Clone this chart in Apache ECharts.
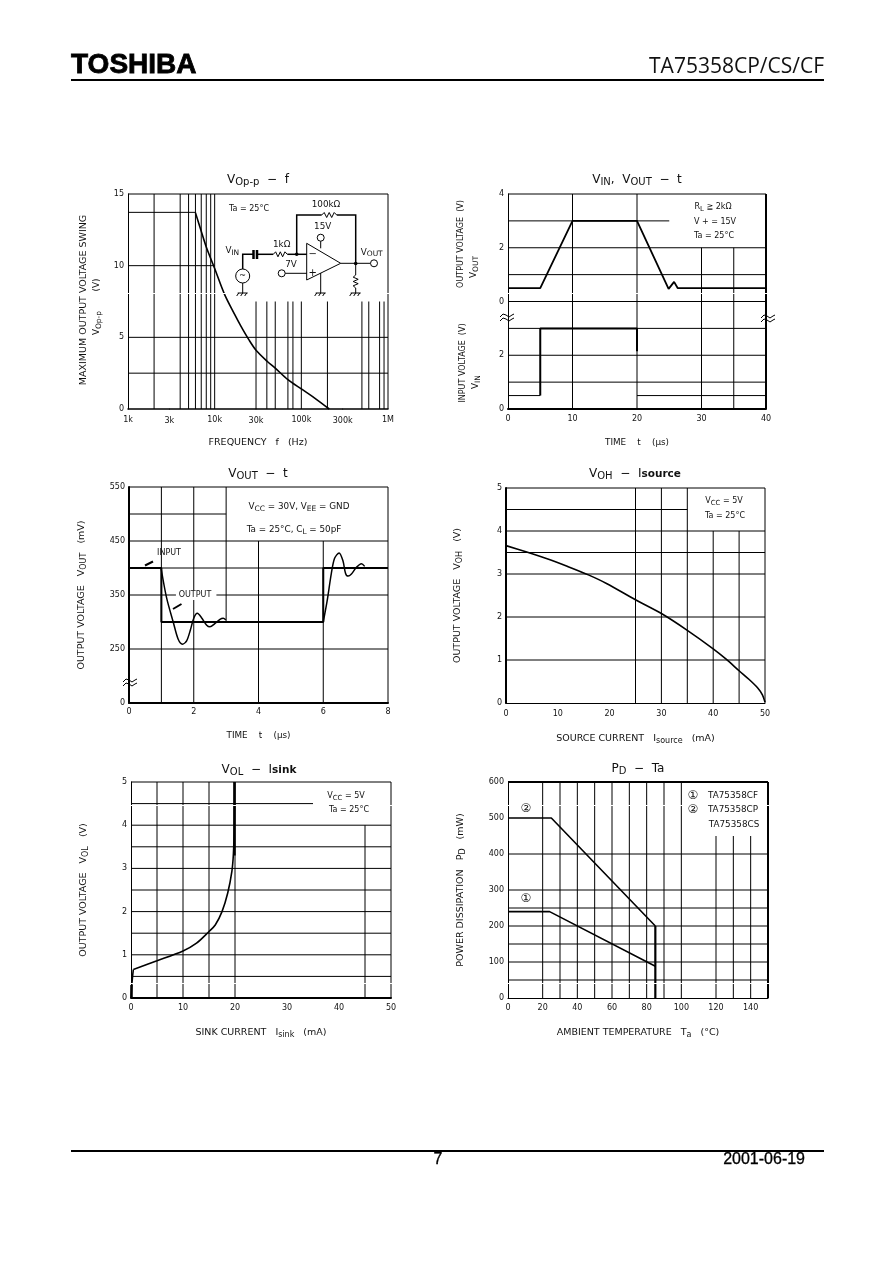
<!DOCTYPE html>
<html><head><meta charset="utf-8">
<style>html,body{margin:0;padding:0;background:#fff}#c{width:892px;height:1263px}</style>
<script src="https://cdn.jsdelivr.net/npm/echarts@6/dist/echarts.min.js"></script>
</head><body><div id="c"></div>
<script>
// ---------- data: chart 1, VOp-p vs f
const freqExtraTicks = [3000, 30000, 300000];
const freqFlat = [[1000,13.72],[6000,13.72]];
const freqCurve = [[6000,13.7],[7000,12.4],[8000,11.3],[10000,9.8],[13000,8.0],[17000,6.6],[20000,5.8],[25000,4.8],[30000,4.1],[40000,3.35],[50000,2.85],[70000,2.05],[100000,1.4],[140000,0.8],[210000,0]];
const freqFullV = [2000,4000,5000,6000,7000,8000,9000,10000];
const freqLowV = [30000,40000,50000,70000,80000,100000,200000,500000,600000,800000,900000];
const freqH = [[1000,1e6,5],[1000,1e6,2.5],[1000,10000,10]];
// ---------- data: chart 2, VIN/VOUT vs t  (lower trace sits on the axis below the break)
const stepOut = [[0,0.5],[5,0.5],[10,3],[20,3],[24.9,0.47],[25.75,0.73],[26.3,0.5],[40,0.5]];
const stepInHigh = [[5,-3.5],[5,-1],[20,-1],[20,-1.85]];
const stepInLow = [[0,5,-3.5],[20,40,-3.5]];
const stepH = [[0,25,3],[0,40,2],[0,40,1],[0,40,0],[0,40,-1],[0,40,-2],[0,40,-3]];
const stepV = [[10,-4,4],[20,-4,4],[30,-4,2],[35,-4,2]];
const stepYLabels = {'4':'4','2':'2','0':'0','-2':'2','-4':'0'};
// ---------- data: chart 3, VOUT vs t
const pulseInput = [[0,400],[1,400],[1,300],[6,300],[6,400],[8,400]];
const pulseOutA = [[0.99,400],[1.16,345],[1.37,299],[1.52,268],[1.65,259],[1.78,265],[1.9,286],[2.0,307],[2.11,316],[2.24,308],[2.4,294],[2.5,291],[2.65,297],[2.81,305],[2.91,307],[2.99,304]];
const pulseOutB = [[6.0,300],[6.12,339],[6.25,390],[6.35,418],[6.49,428],[6.61,413],[6.69,390],[6.77,385],[6.87,389],[7.02,401],[7.18,408],[7.28,403]];
const pulseH = [[1,6,400],[0,1.45,350],[2.7,8,350],[0,3,500],[0,8,450],[0,8,250]];
const pulseV = [[1,150,550],[2,150,550],[3,300,550],[4,150,450],[6,150,450]];
const pulseYLabels = {'550':'550','450':'450','350':'350','250':'250','150':'0'};
// ---------- data: chart 4, VOH vs Isource
const sourceCurve = [[0,3.66],[4,3.51],[8.5,3.33],[11.8,3.18],[15.9,2.98],[19.4,2.78],[25,2.40],[30,2.08],[35,1.69],[40,1.26],[42.5,1.02],[45,0.75],[47,0.54],[48.6,0.35],[49.5,0.19],[50,0.02]];
const sourceH = [[0,35,4.5],[0,50,4],[0,50,3.5],[0,50,3],[0,50,2],[0,50,1]];
const sourceV = [[25,0,5],[30,0,5],[35,0,5],[40,0,4],[45,0,4]];
// ---------- data: chart 5, VOL vs Isink
const sinkStart = [[0,0],[0.15,0.3],[0.3,0.5],[0.45,0.66]];
const sinkCurve = [[0.45,0.66],[5,0.86],[10,1.09],[12.6,1.27],[15,1.54],[16.2,1.69],[17.5,2.0],[18.6,2.43],[19.4,2.93],[19.7,3.35],[19.85,3.97],[19.9,5]];
const sinkThick = [[19.9,3.3],[19.9,5]];
const sinkFoot = [[0.1,0],[0.1,0.3]];
const sinkH = [[0,35,4.5],[0,50,4],[0,50,3.5],[0,50,3],[0,50,2.5],[0,50,2],[0,50,1.5],[0,50,1],[0,50,0.5]];
const sinkV = [[5,0,5],[10,0,5],[15,0,5],[20,0,5],[45,0,4]];
// ---------- data: chart 6, PD vs Ta
const powerCurve2 = [[0,500],[25,500],[85,200]];
const powerCurve1 = [[0,240],[24,240],[85,88]];
const powerDrop = [[85,200],[85,0]];
const powerH = [[0,150,400],[0,150,300],[0,150,250],[0,150,200],[0,150,150],[0,150,100],[0,150,50]];
const powerV = [[20,0,600],[30,0,600],[40,0,600],[50,0,600],[60,0,600],[70,0,600],[80,0,600],[90,0,600],[100,0,600],[120,0,450],[130,0,450],[140,0,450]];

// ---------- text
const FF = '"DejaVu Sans"';
const FS = 8;
const TXT = '#111';
const richBase = {
  n:{fontFamily:FF,fontSize:FS,color:TXT},
  s:{fontFamily:FF,fontSize:7,color:TXT,padding:[4,0,0,0]},
  m:{fontFamily:FF,fontSize:8.8,color:TXT},
  ms:{fontFamily:FF,fontSize:7.5,color:TXT,padding:[4,0,0,0]},
  a:{fontFamily:FF,fontSize:9.5,color:TXT},
  as:{fontFamily:FF,fontSize:8,color:TXT,padding:[4,0,0,0]},
  tn:{fontFamily:FF,fontSize:12,color:TXT},
  ts:{fontFamily:FF,fontSize:10,color:TXT,padding:[4,0,0,0]},
  tb:{fontFamily:FF,fontSize:10.5,color:TXT,fontWeight:'bold'}
};
const titles = [
  {x:258,y:182,t:'{tn|V}{ts|Op-p}{tn|  −  f}'},
  {x:637,y:182,t:'{tn|V}{ts|IN}{tn|,  V}{ts|OUT}{tn|  −  t}'},
  {x:258,y:476,t:'{tn|V}{ts|OUT}{tn|  −  t}'},
  {x:635,y:476,t:'{tn|V}{ts|OH}{tn|  −  I}{tb|source}'},
  {x:259,y:772,t:'{tn|V}{ts|OL}{tn|  −  I}{tb|sink}'},
  {x:638,y:771,t:'{tn|P}{ts|D}{tn|  −  Ta}'}
];

const grids = [
  {left:128,top:194,width:260,height:215},
  {left:508,top:194,width:258,height:215},
  {left:129,top:487,width:259,height:216},
  {left:506,top:488,width:259,height:215},
  {left:131,top:782,width:260,height:216},
  {left:508,top:782,width:260,height:216}
];

function axisBase(w, label){
  return {show:true, axisTick:{show:false}, splitLine:{show:false}, minorTick:{show:false}, minorSplitLine:{show:false},
    axisLine:{show:true,onZero:false,lineStyle:{color:'#000',width:w}},
    axisLabel:Object.assign({fontFamily:FF,fontSize:FS,color:TXT,margin:6,hideOverlap:false,showMinLabel:true,showMaxLabel:true},label||{}),
    nameLocation:'middle', nameTextStyle:{fontFamily:FF,fontSize:FS,color:TXT,rich:richBase}};
}
const xAxes = [
  Object.assign(axisBase(1.5,{margin:7,formatter:v=>v>=1e6?'1M':(v/1000)+'k'}),{gridIndex:0,type:'log',logBase:10,min:1000,max:1e6,name:'{a|FREQUENCY   f   (Hz)}',nameGap:29}),
  Object.assign(axisBase(2),{gridIndex:1,type:'value',min:0,max:40,interval:10,name:'{m|TIME    t    (μs)}',nameGap:29}),
  Object.assign(axisBase(2,{margin:5}),{gridIndex:2,type:'value',min:0,max:8,interval:2,name:'{m|TIME    t    (μs)}',nameGap:28}),
  Object.assign(axisBase(1,{margin:7}),{gridIndex:3,type:'value',min:0,max:50,interval:10,name:'{a|SOURCE CURRENT   I}{as|source}{a|   (mA)}',nameGap:30}),
  Object.assign(axisBase(2),{gridIndex:4,type:'value',min:0,max:50,interval:10,name:'{a|SINK CURRENT   I}{as|sink}{a|   (mA)}',nameGap:29}),
  Object.assign(axisBase(1,{formatter:v=>v>140?'':String(v)}),{gridIndex:5,type:'value',min:0,max:150,interval:20,name:'{a|AMBIENT TEMPERATURE   T}{as|a}{a|   (°C)}',nameGap:29})
];
const yAxes = [
  Object.assign(axisBase(1,{margin:4}),{gridIndex:0,type:'value',min:0,max:15,interval:5}),
  Object.assign(axisBase(1,{margin:4,formatter:v=>stepYLabels[String(v)]}),{gridIndex:1,type:'value',min:-4,max:4,interval:2}),
  Object.assign(axisBase(2,{margin:4,formatter:v=>pulseYLabels[String(v)]||''}),{gridIndex:2,type:'value',min:150,max:550,interval:50,name:'{a|OUTPUT VOLTAGE   V}{as|OUT}{a|   (mV)}',nameGap:41}),
  Object.assign(axisBase(2,{margin:4}),{gridIndex:3,type:'value',min:0,max:5,interval:1,name:'{a|OUTPUT VOLTAGE   V}{as|OH}{a|   (V)}',nameGap:42}),
  Object.assign(axisBase(1,{margin:4}),{gridIndex:4,type:'value',min:0,max:5,interval:1,name:'{a|OUTPUT VOLTAGE   V}{as|OL}{a|   (V)}',nameGap:41}),
  Object.assign(axisBase(1,{margin:4}),{gridIndex:5,type:'value',min:0,max:600,interval:100,name:'{a|POWER DISSIPATION   P}{as|D}{a|   (mW)}',nameGap:41})
];

// ---------- series helpers
const GAP = ['-','-'];
function line(i,data,w,smooth){
  return {type:'line',xAxisIndex:i,yAxisIndex:i,data,symbol:'none',silent:true,clip:false,animation:false,
    smooth:smooth?0.3:false,connectNulls:false,lineStyle:{color:'#000',width:w}};
}
function segs(hs,vs){
  const out=[];
  (hs||[]).forEach(h=>{out.push([h[0],h[2]],[h[1],h[2]],GAP)});
  (vs||[]).forEach(v=>{out.push([v[0],v[1]],[v[0],v[2]],GAP)});
  return out;
}
const frame = (x0,x1,y0,y1)=>({h:[[x0,x1,y1]],v:[[x1,y0,y1]]});
const fr = [frame(1000,1e6,0,15),frame(0,40,-4,4),frame(0,8,150,550),frame(0,50,0,5),frame(0,50,0,5),frame(0,150,0,600)];
const series = [
  line(0,segs(freqH.concat(fr[0].h),freqFullV.map(x=>[x,0,15]).concat(freqLowV.map(x=>[x,0,7.5])).concat(fr[0].v)),1),
  line(0,freqFlat,1),
  line(0,freqCurve,1.6,true),
  {type:'scatter',xAxisIndex:0,yAxisIndex:0,silent:true,animation:false,symbolSize:1,itemStyle:{color:'#000',opacity:1},
    data:freqExtraTicks.map(f=>[f,0]),
    label:{show:true,position:'bottom',distance:7,opacity:1,fontFamily:FF,fontSize:FS,color:TXT,formatter:p=>(p.value[0]/1000)+'k'}},

  line(1,segs(stepH.concat(fr[1].h),stepV),1),
  line(1,segs(null,fr[1].v),2),
  line(1,stepOut,1.8),
  line(1,stepInHigh,2),
  line(1,segs(stepInLow,null),1),

  line(2,segs(pulseH.concat(fr[2].h),pulseV.concat(fr[2].v)),1),
  line(2,pulseInput,2),
  line(2,pulseOutA,1.5,true),
  line(2,pulseOutB,1.5,true),

  line(3,segs(sourceH.concat(fr[3].h),sourceV.concat(fr[3].v)),1),
  line(3,sourceCurve,1.6,true),

  line(4,segs(sinkH.concat(fr[4].h),sinkV.concat(fr[4].v)),1),
  line(4,sinkStart,1.6),
  line(4,sinkCurve,1.6,true),
  line(4,sinkThick,2.5),
  line(4,sinkFoot,2.5),

  line(5,segs(powerH,powerV),1),
  line(5,segs(fr[5].h,fr[5].v),2),
  line(5,powerCurve2,1.6),
  line(5,powerCurve1,1.6),
  line(5,powerDrop,2.2)
];

// ---------- page furniture and annotations
const g = [];
const P = (points,w)=>g.push({type:'polyline',silent:true,z:10,shape:{points},style:{stroke:'#000',lineWidth:w||1,fill:null}});
const C = (cx,cy,r)=>g.push({type:'circle',silent:true,z:10,shape:{cx,cy,r},style:{stroke:'#000',lineWidth:1,fill:'#fff'}});
const D = (cx,cy)=>g.push({type:'circle',silent:true,z:10,shape:{cx,cy,r:1.8},style:{fill:'#000'}});
const T = (x,y,text,o)=>g.push(Object.assign({type:'text',silent:true,z:11,x,y},o&&o.rot?{rotation:o.rot}:{},
  {style:Object.assign({text,align:'center',verticalAlign:'middle',fontFamily:FF,fontSize:FS,fill:TXT,rich:richBase},o&&o.style||{})}));
const R = (x,y,w,h)=>g.push({type:'rect',silent:true,z:9,shape:{x,y,width:w,height:h},style:{fill:'#fff'}});

// dropped scan rows
R(100,293,700,1); R(120,805,660,1); R(120,983,660,1);

// header / footer
T(71,65,'TOSHIBA',{style:{align:'left',fontFamily:'"Liberation Sans"',fontWeight:'bold',fontSize:28,fill:'#000',stroke:'#000',lineWidth:0.8}});
T(824,67,'TA75358CP/CS/CF',{style:{align:'right',fontFamily:'"Open Sans"',fontSize:21,fill:'#111'}});
P([[71,80],[824,80]],2);
P([[71,1151],[824,1151]],2);
T(438,1160,'7',{style:{fontFamily:'"Liberation Sans"',fontSize:16,fill:'#000',stroke:'#000',lineWidth:0.3}});
T(805,1160,'2001-06-19',{style:{align:'right',fontFamily:'"Liberation Sans"',fontSize:16,fill:'#000',stroke:'#000',lineWidth:0.3}});

// y-axis captions that span two columns
const ROT = Math.PI/2;
T(84,300,'{a|MAXIMUM OUTPUT VOLTAGE SWING}',{rot:ROT});
T(97,285,'(V)',{rot:ROT,style:{fontSize:9}});
T(97,323,'{m|V}{ms|Op-p}',{rot:ROT});
T(461,244,'OUTPUT VOLTAGE  (V)',{rot:ROT});
T(474,267,'{m|V}{ms|OUT}',{rot:ROT});
T(463,363,'INPUT VOLTAGE  (V)',{rot:ROT});
T(476,382,'{m|V}{ms|IN}',{rot:ROT});

// chart 1: test circuit
T(249,209,'Ta = 25°C');
T(326,205,'{m|100kΩ}'); T(322.7,226.7,'{m|15V}'); T(281.7,245,'{m|1kΩ}'); T(291,265,'{m|7V}');
T(232.3,251,'{m|V}{ms|IN}'); T(371.7,252.5,'{m|V}{ms|OUT}');
T(312.7,254,'−',{style:{fontSize:10}}); T(312.7,273,'+',{style:{fontSize:10}});
const zigH=(x0,x1,y)=>{const p=[[x0,y]],n=6,d=(x1-x0)/n;for(let i=1;i<n;i++)p.push([x0+d*i,y+(i%2?-2.5:2.5)]);p.push([x1,y]);return p;};
const zigV=(x,y0,y1)=>{const p=[[x,y0]],n=6,d=(y1-y0)/n;for(let i=1;i<n;i++)p.push([x+(i%2?-2.5:2.5),y0+d*i]);p.push([x,y1]);return p;};
const gnd=(x,y)=>{P([[x-5,y],[x+5,y]]);[-4,0,4].forEach(o=>P([[x+o,y],[x+o-2,y+3]]));};
P([[296.7,254],[296.7,215],[321.7,215]],1.5); P(zigH(321.7,336.7,215));
P([[336.7,215],[355.7,215],[355.7,264]],1.5);
P([[306.7,243.3],[306.7,280],[340.7,263.3],[306.7,243.3]]);
P([[242.7,269],[242.7,254.3],[253,254.3]],1.5);
P([[253.5,250],[253.5,259]],2.5); P([[257,250],[257,259]],2.5);
P([[257,254.3],[273.3,254.3]],1.5); P(zigH(273.3,287.3,254.3)); P([[287.3,254.3],[306.7,254.3]],1.5);
D(296.7,254.3); D(355.7,263.5);
C(242.7,276,7); T(242.7,276,'~');
P([[242.7,283],[242.7,293]]); gnd(242.7,293);
P([[285,273.3],[306.7,273.3]]); C(281.7,273.3,3.5);
P([[320.7,241],[320.7,248.3]]); C(320.7,237.7,3.5);
P([[320.7,273],[320.7,293]]); gnd(320.7,293);
P([[340.7,263.3],[370.5,263.3]]); C(374,263.3,3.5);
P([[355.7,263.5],[355.7,275]]); P(zigV(355.7,275,288)); P([[355.7,288],[355.7,293]]); gnd(355.7,293);

// break marks
const wave=(x,y)=>{[-2,2].forEach(o=>P([[x-7,y+o+1],[x-4,y+o-2],[x-1,y+o-1],[x+2,y+o+1],[x+5,y+o-1],[x+7,y+o-2]]));};
wave(507,318); wave(768,319); wave(130,683);

// chart 2 conditions
T(713,207,'{n|R}{s|L}{n| ≧ 2kΩ}');
T(715,222,'V + = 15V'); T(714,236,'Ta = 25°C');
// chart 3 notes
T(299,507,'{m|V}{ms|CC}{m| = 30V, V}{ms|EE}{m| = GND}');
T(294,530,'{m|Ta = 25°C, C}{ms|L}{m| = 50pF}');
T(169,553,'INPUT'); P([[153,561.5],[145,565.5]],2);
g.push({type:'rect',silent:true,z:9,shape:{x:176,y:590,width:38,height:10},style:{fill:'#fff'}});
T(195,595,'OUTPUT'); P([[181.5,604],[173,609]],2);
// chart 4 notes
T(724,500.7,'{n|V}{s|CC}{n| = 5V}'); T(725,515.7,'Ta = 25°C');
// chart 5 notes
T(346,796,'{n|V}{s|CC}{n| = 5V}'); T(349,810,'Ta = 25°C');
// chart 6 notes
const CJ={style:{fontFamily:'"DejaVu Sans","Noto Sans CJK JP"',fontSize:12}};
T(526,809,'②',CJ); T(526,899,'①',CJ);
T(693,795.7,'①',CJ); T(733,795.7,'{m|TA75358CF}');
T(693,810,'②',CJ); T(733,810,'{m|TA75358CP}');
T(734,825,'{m|TA75358CS}');

const option = {
  backgroundColor:'#fff', animation:false,
  title:titles.map(t=>({text:t.t,left:t.x,top:t.y-9,textAlign:'center',padding:0,textStyle:{rich:richBase,fontFamily:FF,fontSize:12,fontWeight:'normal',color:TXT}})),
  grid:grids.map(x=>Object.assign({containLabel:false,show:false},x)),
  xAxis:xAxes, yAxis:yAxes, series, graphic:{elements:g}
};
const chart = echarts.init(document.getElementById('c'),null,{renderer:'canvas'});
chart.setOption(option);
</script></body></html>
